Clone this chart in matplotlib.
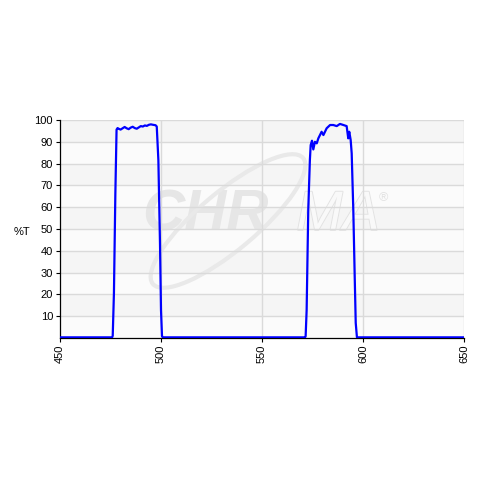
import numpy as np
import matplotlib
matplotlib.use("Agg")
import matplotlib.pyplot as plt
from matplotlib.patches import Ellipse
from matplotlib.transforms import IdentityTransform
import matplotlib.patheffects as pe

plt.rcParams['font.family'] = ['Liberation Sans', 'DejaVu Sans']

# =============================
# Data
# =============================
wavelength = [450, 475.8, 476.1, 476.7, 477.4, 478.0, 478.5, 479, 480, 481, 482,
              483, 484, 485, 486, 487, 488, 489, 490, 491, 492, 493, 494, 495,
              496, 497.3, 497.9, 498.7, 499.5, 500.0, 500.5, 501,
              571.3, 571.6, 572.1, 572.9, 573.7, 574.1, 574.75, 575.4, 576.2,
              577.1, 577.9, 579.5, 580.4, 582.0, 583.7, 585.3, 587.0, 588.6,
              590.3, 591.9, 592.7, 593.2, 593.9, 594.4, 595.2, 595.9, 596.4,
              597.0, 650]
transmission = [0.3, 0.3, 1.0, 20.5, 66.0, 95.6, 96.3, 96.0, 95.6, 96.2, 96.8,
                96.2, 95.8, 96.5, 96.9, 96.3, 96.0, 96.6, 97.2, 97.0, 97.5, 97.3,
                97.8, 98.0, 97.8, 97.6, 97.0, 81.6, 43.4, 12.8, 0.8, 0.3,
                0.3, 0.8, 12.8, 58.7, 81.6, 88.5, 90.5, 86.5, 90.0,
                89.3, 91.6, 94.6, 93.1, 96.2, 97.7, 97.7, 97.2, 98.2,
                97.7, 97.2, 91.6, 94.6, 90.8, 84.7, 58.7, 28.0, 6.9,
                0.3, 0.3]

x_ticks = [450, 500, 550, 600, 650]
y_ticks = [10, 20, 30, 40, 50, 60, 70, 80, 90, 100]

# =============================
# Figure
# =============================
fig = plt.figure(figsize=(4.8, 4.8), dpi=100)
ax = fig.add_axes([60/480, 1 - 338/480, 404/480, 218/480])
ax.set_facecolor("white")

# alternating light bands between gridlines
for i in range(10):
    ax.axhspan(i*10, i*10 + 10, color="#f5f5f5" if i % 2 else "#fbfbfb", lw=0, zorder=0)

# =============================
# Watermark (under the grid)
# =============================
ax.text(0.359, 0.56, "CHR", transform=ax.transAxes, ha="center", va="center",
        fontsize=42, fontweight="bold", fontstyle="italic", color="#e6e6e6", zorder=0.5)
ax.text(0.688, 0.56, "MA", transform=ax.transAxes, ha="center", va="center",
        fontsize=40, fontstyle="italic", color="#f9f9f9", zorder=0.5,
        path_effects=[pe.withStroke(linewidth=1.3, foreground="#e2e2e2")])
ax.text(0.80, 0.64, "®", transform=ax.transAxes, ha="center", va="center",
        fontsize=9, color="#e2e2e2", zorder=0.5)
ring = Ellipse((228, 259), 196, 58, angle=40, fill=False, ec="#e9e9e9", lw=3,
               transform=IdentityTransform(), zorder=0.5)
ax.add_artist(ring)

for y in y_ticks:
    ax.axhline(y, color="#dadada", lw=1.0, zorder=1)
for x in x_ticks[1:]:
    ax.axvline(x, color="#dadada", lw=1.0, zorder=1)

# =============================
# Curve
# =============================
ax.plot(wavelength, transmission, color="#0000ff", lw=1.6, zorder=3)

ax.set_xlim(450, 650)
ax.set_ylim(0, 100)
ax.set_xticks(x_ticks)
ax.set_yticks(y_ticks)
ax.set_xticklabels([str(v) for v in x_ticks], rotation=90, fontsize=8)
ax.set_yticklabels([str(v) for v in y_ticks], fontsize=8)
ax.tick_params(direction="out", length=3, width=0.8, pad=2)

for side in ["top", "right"]:
    ax.spines[side].set_visible(False)
ax.spines["left"].set_linewidth(0.9)
ax.spines["bottom"].set_linewidth(0.9)

fig.text(22/480, 1 - 232/480, "%T", fontsize=8, ha="center", va="center")

fig.savefig("out.png", dpi=100)
